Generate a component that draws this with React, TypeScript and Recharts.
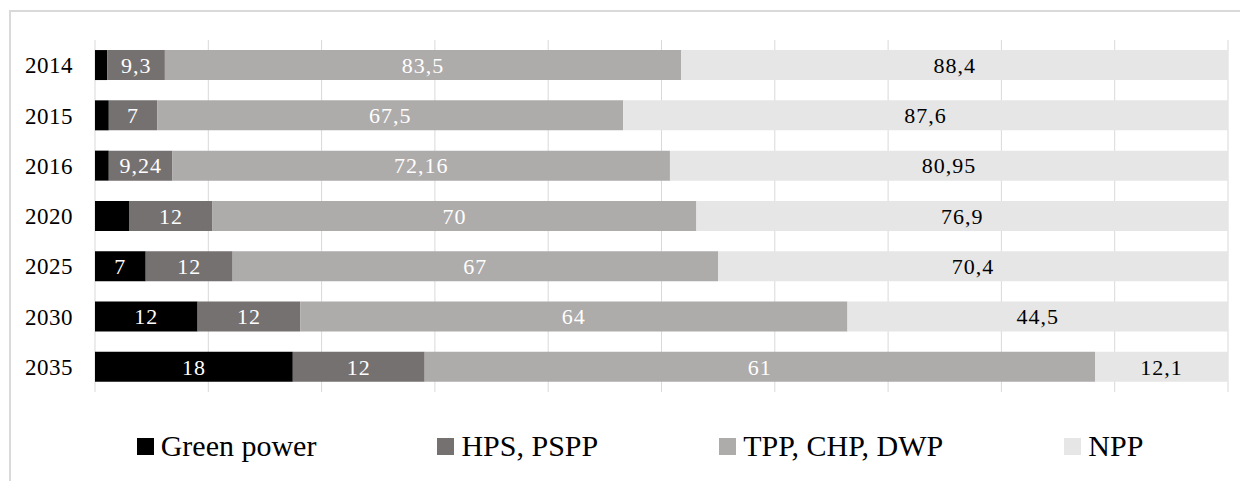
import { BarChart, Bar, XAxis, YAxis, CartesianGrid, LabelList, Legend } from 'recharts';

const years = ['2014', '2015', '2016', '2020', '2025', '2030', '2035'];
const greenPower = [2, 2, 2, 5, 7, 12, 18];
const hpsPspp = [9.3, 7, 9.24, 12, 12, 12, 12];
const tppChpDwp = [83.5, 67.5, 72.16, 70, 67, 64, 61];
const npp = [88.4, 87.6, 80.95, 76.9, 70.4, 44.5, 12.1];
const gridTicks = [0, 0.1, 0.2, 0.3, 0.4, 0.5, 0.6, 0.7, 0.8, 0.9, 1];

const SERIES = [
  { key: 'green', name: 'Green power', color: '#000000', text: '#ffffff' },
  { key: 'hps', name: 'HPS, PSPP', color: '#767171', text: '#ffffff' },
  { key: 'tpp', name: 'TPP, CHP, DWP', color: '#AEABAB', text: '#ffffff' },
  { key: 'npp', name: 'NPP', color: '#E7E6E6', text: '#000000' },
];

const data = years.map((year, i) => ({
  year,
  green: greenPower[i],
  hps: hpsPspp[i],
  tpp: tppChpDwp[i],
  npp: npp[i],
}));

const FONT = "'Liberation Serif', Tinos, 'Times New Roman', Times, 'Nimbus Roman', 'Noto Serif', 'DejaVu Serif', FreeSerif, serif";

// comma decimal separator like the source figure
const fmt = (v: unknown) => String(v).replace('.', ',');
// the thin green slices for the early years carry no label
const fmtGreen = (v: unknown) => (Number(v) >= 7 ? fmt(v) : '');

const renderLegend = () => (
  <div
    style={{
      display: 'flex',
      justifyContent: 'center',
      alignItems: 'center',
      gap: 121,
      fontFamily: FONT,
      fontSize: 30,
      color: '#000',
      height: 40,
    }}
  >
    {SERIES.map((s) => (
      <div key={s.key} style={{ display: 'flex', alignItems: 'center' }}>
        <span style={{ width: 17, height: 17, background: s.color, marginRight: 7, display: 'inline-block' }} />
        <span>{s.name}</span>
      </div>
    ))}
  </div>
);

export default function App() {
  return (
    <div style={{ position: 'relative', width: 1240, height: 473, fontFamily: FONT }}>
      <div
        style={{
          position: 'absolute',
          left: 1,
          top: 2,
          width: 1260,
          height: 500,
          borderTop: '2px solid #d9d9d9',
          borderLeft: '2px solid #d9d9d9',
        }}
      />
      <div style={{ position: 'absolute', left: 0, top: 0 }}>
        <BarChart
          width={1240}
          height={473}
          data={data}
          layout="vertical"
          stackOffset="expand"
          barCategoryGap="20%"
          margin={{ top: 32, right: 20, bottom: 89, left: 0 }}
          style={{ fontFamily: FONT }}
        >
          <CartesianGrid horizontal={false} stroke="#d9d9d9" strokeWidth={1} />
          <XAxis type="number" domain={[0, 1]} ticks={gridTicks} hide />
          <YAxis
            type="category"
            dataKey="year"
            width={87}
            axisLine={false}
            tickLine={false}
            tickSize={6}
            tickMargin={16}
            tick={{ fill: '#000', fontSize: 23, fontFamily: FONT, letterSpacing: 0.5 }}
          />
          <Legend
            layout="horizontal"
            verticalAlign="middle"
            align="center"
            content={renderLegend}
            wrapperStyle={{ top: 418, left: 0, width: 1264 }}
          />
          {SERIES.map((s) => (
            <Bar key={s.key} dataKey={s.key} name={s.name} stackId="a" fill={s.color} isAnimationActive={false}>
              <LabelList
                dataKey={s.key}
                position="center"
                formatter={s.key === 'green' ? fmtGreen : fmt}
                fill={s.text}
                fontFamily={FONT}
                fontSize={22}
                style={{ letterSpacing: 1 }}
              />
            </Bar>
          ))}
        </BarChart>
      </div>
    </div>
  );
}
